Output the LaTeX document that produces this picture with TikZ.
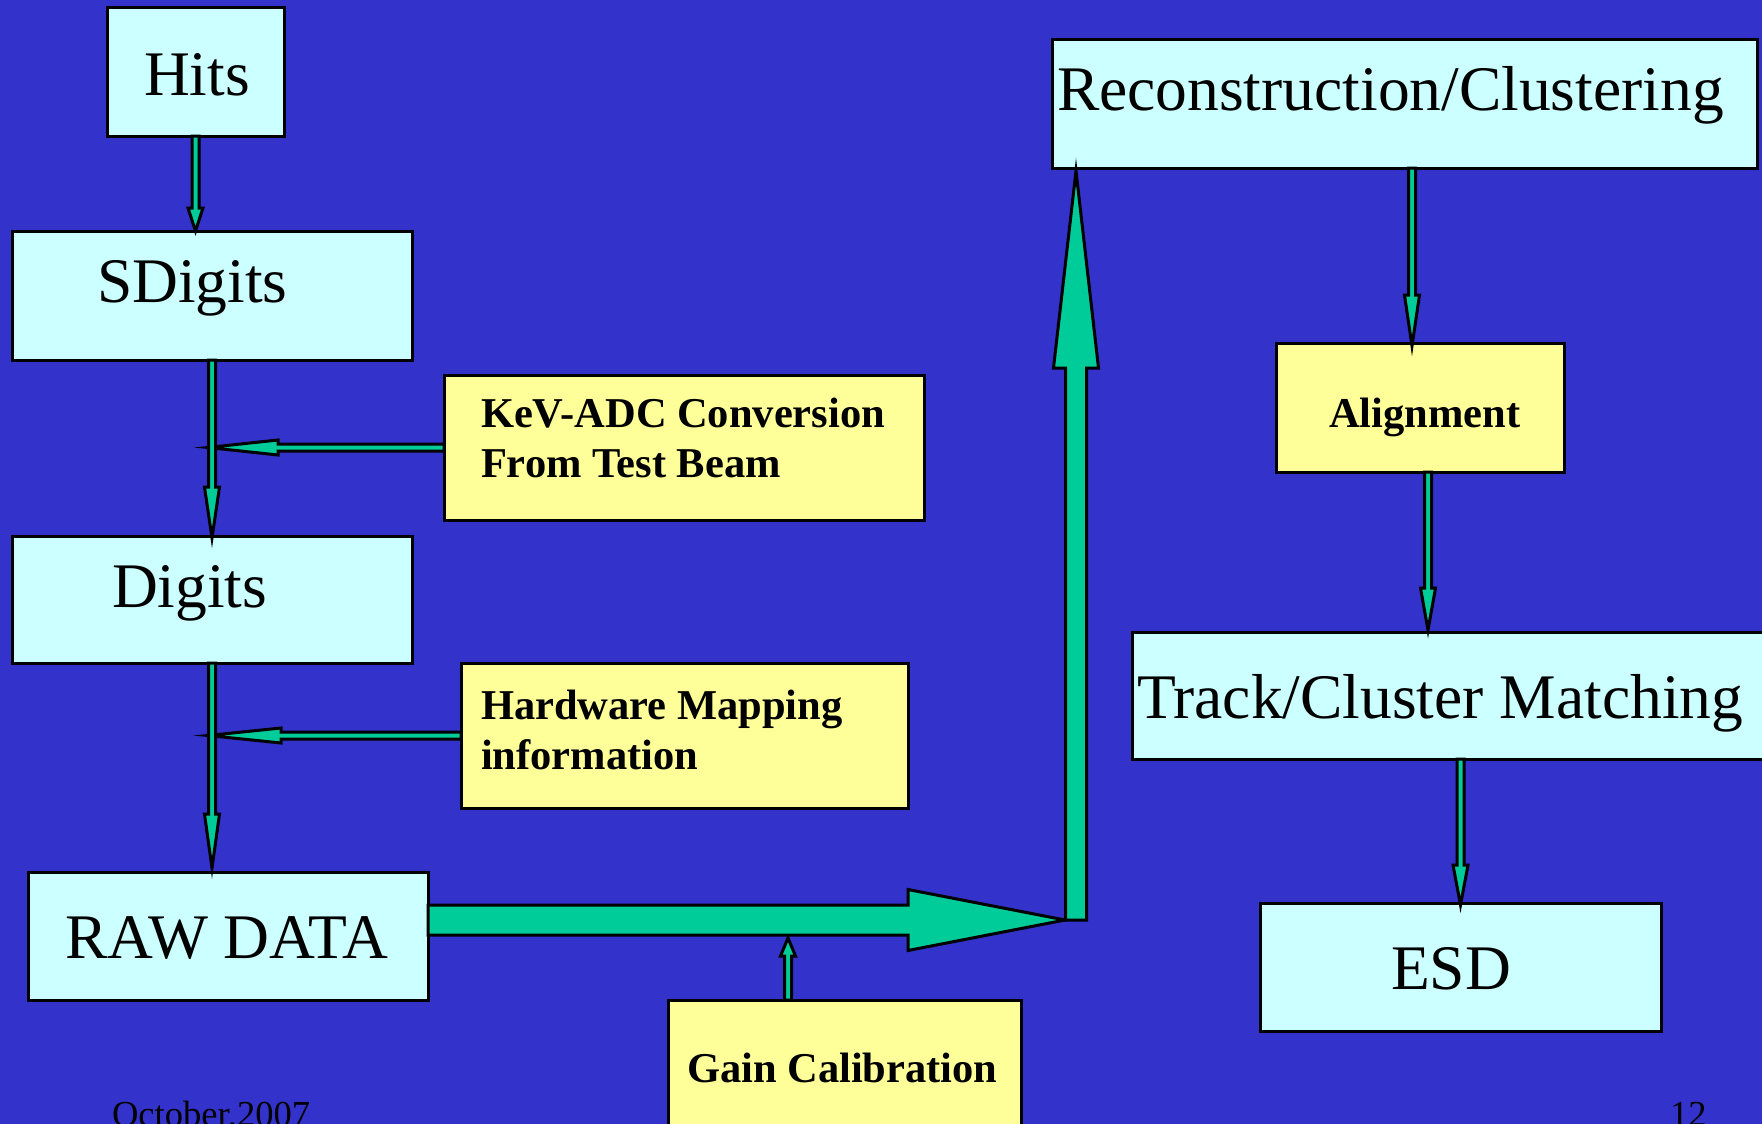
\documentclass[tikz,border=0pt]{standalone}
\usepackage{fontspec}
\setmainfont{Liberation Serif}
\usetikzlibrary{calc,fit}
\definecolor{bg}{RGB}{51,51,204}
\definecolor{cyanbox}{RGB}{204,255,255}
\definecolor{yelbox}{RGB}{255,255,153}
\definecolor{arrgreen}{RGB}{0,204,153}
\tikzset{
 box/.style={draw=black, line width=1.5pt, inner sep=0pt, outer sep=0pt},
 cbox/.style={box, fill=cyanbox},
 ybox/.style={box, fill=yelbox},
 bigtxt/.style={font=\fontsize{31.75}{38}\selectfont, inner sep=0pt, outer sep=0pt, anchor=base west},
 boldtxt/.style={font=\fontsize{21.25}{25}\selectfont\bfseries, inner sep=0pt, outer sep=0pt, anchor=base west},
 foottxt/.style={font=\fontsize{18.3}{22}\selectfont, inner sep=0pt, outer sep=0pt, anchor=base west},
 arrowfill/.style={fill=arrgreen, draw=black, line width=1.5pt, line join=miter},
}
% #1 from, #2 tip, #3 shaft half width, #4 head half width, #5 head length
\newcommand\blockarr[5]{%
  \coordinate (tmpb) at ($(#2)!#5!(#1)$);
  \filldraw[arrowfill] ($(#1)!#3!90:(#2)$) -- ($(tmpb)!#3!90:(#2)$) -- ($(tmpb)!#4!90:(#2)$) -- (#2) -- ($(tmpb)!#4!-90:(#2)$) -- ($(tmpb)!#3!-90:(#2)$) -- ($(#1)!#3!-90:(#2)$) -- cycle;
}
\newcommand\thinarr[3]{\blockarr{#1}{#2}{1.75pt}{3.75pt}{#3}}
\begin{document}
\begin{tikzpicture}[x=0.5pt,y=-0.5pt]
\useasboundingbox (0,0) rectangle (1762,1124);
\fill[bg] (0,0) rectangle (1762,1124);
\begin{scope}
\clip (0,0) rectangle (1762,1124);
% boxes
\node[cbox, fit={(107,7)(284,136)}] (hits) {};
\node[cbox, fit={(12,231)(412,360)}] (sdig) {};
\node[cbox, fit={(12,536)(412,663)}] (digits) {};
\node[cbox, fit={(28,872)(428,1000)}] (raw) {};
\node[ybox, fit={(444,375)(924,520)}] (kev) {};
\node[ybox, fit={(461,663)(908,808)}] (hw) {};
\node[ybox, fit={(668,1000)(1021,1150)}] (gain) {};
\node[cbox, fit={(1052,39)(1757,168)}] (recon) {};
\node[ybox, fit={(1276,343)(1564,472)}] (align) {};
\node[cbox, fit={(1132,632)(1780,759)}] (track) {};
\node[cbox, fit={(1260,903)(1661,1031)}] (esd) {};
% texts
\node[bigtxt] (hitsT) at (144,95) {Hits};
\node[bigtxt] (sdigT) at (97,302) {SDigits};
\node[bigtxt] (digitsT) at (112,607) {Digits};
\node[bigtxt] (rawT) at (65,958) {RAW DATA};
\node[bigtxt] (reconT) at (1057,110) {Reconstruction/Clustering};
\node[bigtxt] (trackT) at (1137,718) {Track/Cluster Matching};
\node[bigtxt] (esdT) at (1391,989) {ESD};
\node[boldtxt] (kevT1) at (481,427) {KeV-ADC Conversion};
\node[boldtxt] (kevT2) at (481,477) {From Test Beam};
\node[boldtxt] (hwT1) at (481,719) {Hardware Mapping};
\node[boldtxt] (hwT2) at (481,769) {information};
\node[boldtxt] (alignT) at (1329,427) {Alignment};
\node[boldtxt] (gainT) at (687,1082) {Gain Calibration};
\node[foottxt] (dateT) at (112,1126) {October.2007};
\node[foottxt] (pageT) at (1670,1126) {12};
% coordinates for connectors
\coordinate (a1) at (hits.south |- sdig.north);
\coordinate (kevtip) at ($(sdig.south |- kev.west)+(-4,0)$);
\coordinate (hwtip) at ($(digits.south |- hw.west)+(-4,0)$);
\coordinate (sdtip) at ($(digits.north)+(0,2)$);
\coordinate (dgtip) at ($(digits.south |- raw.north)+(0,-4)$);
\coordinate (bigstart) at ($(raw.north east)!0.375!(raw.south east)$);
\coordinate (jn) at ($(bigstart)+(637,0)$);
\coordinate (up0) at ($(jn)+(11,0)$);
\coordinate (up1) at ($(recon.south west)+(24,3)$);
\coordinate (g0) at ($(gain.north west)+(120,0)$);
\coordinate (g1) at ($(g0)+(0,-62)$);
\coordinate (r0) at ($(recon.south west)+(360,0)$);
\coordinate (r1) at ($(r0 |- align.north)+(0,3)$);
\coordinate (al0) at ($(align.south west)+(152,0)$);
\coordinate (al1) at ($(al0 |- track.north)+(0,-2)$);
\coordinate (t0) at (esd.north |- track.south);
\coordinate (t1) at ($(esd.north)+(0,2)$);
% horizontal feed arrows
\thinarr{kev.west}{kevtip}{35pt}
\thinarr{hw.west}{hwtip}{36.5pt}
% vertical chain
\thinarr{hits.south}{a1}{11.5pt}
\thinarr{sdig.south}{sdtip}{25.5pt}
\thinarr{digits.south}{dgtip}{27pt}
% big arrows
\blockarr{bigstart}{jn}{7.5pt}{15.25pt}{78.5pt}
\blockarr{up0}{up1}{5.25pt}{11.25pt}{98.5pt}
\thinarr{g0}{g1}{9pt}
% right chain
\thinarr{r0}{r1}{25.5pt}
\thinarr{al0}{al1}{21pt}
\thinarr{t0}{t1}{20pt}
\end{scope}
\end{tikzpicture}
\end{document}
